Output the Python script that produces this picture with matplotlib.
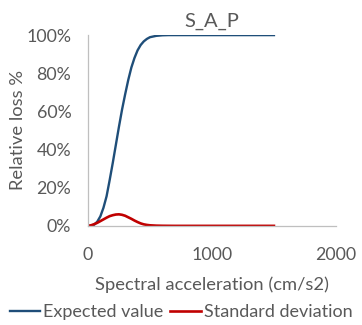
import matplotlib.pyplot as plt
from matplotlib.ticker import FuncFormatter

# spectral acceleration (cm/s2)
sa = [0, 25, 50, 75, 100, 125, 150, 175, 200, 225, 250, 275, 300, 325, 350, 375,
      400, 425, 450, 475, 500, 550, 600, 650, 700, 800, 1000, 1200, 1500]
# relative loss (%)
expected = [0, 0.1, 0.6, 2.2, 5.0, 9.5, 15.5, 24, 33, 42.5, 52, 61, 69, 76.5, 83, 88,
            92, 94.8, 96.7, 98, 98.9, 99.6, 99.9, 100, 100, 100, 100, 100, 100]
std_dev = [0, 0.3, 0.9, 1.6, 2.5, 3.4, 4.3, 5.1, 5.6, 5.95, 6.05, 5.8, 5.3, 4.5, 3.7, 2.8,
           2.0, 1.3, 0.8, 0.5, 0.3, 0.12, 0.05, 0.02, 0, 0, 0, 0, 0]

plt.rcParams['font.family'] = ['Lato', 'DejaVu Sans']
grey = '#595959'

fig = plt.figure(figsize=(3.62, 3.25), dpi=100)
ax = fig.add_axes([0.243, 0.305, 0.685, 0.587])

ax.plot(sa, expected, color='#1F4E79', lw=1.7, label='Expected value')
ax.plot(sa, std_dev, color='#C00000', lw=1.9, label='Standard deviation')

ax.set_xlim(0, 2000)
ax.set_ylim(0, 100)
ax.set_xticks([0, 1000, 2000])
ax.set_yticks(range(0, 101, 20))
ax.yaxis.set_major_formatter(FuncFormatter(lambda v, p: '%d%%' % v))
ax.tick_params(length=0, labelsize=12.8, labelcolor=grey)
ax.tick_params(axis='y', pad=12)
ax.tick_params(axis='x', pad=15)

for s in ['top', 'right']:
    ax.spines[s].set_visible(False)
for s in ['left', 'bottom']:
    ax.spines[s].set_color('#BFBFBF')
    ax.spines[s].set_linewidth(0.9)

ax.set_title('S_A_P', fontsize=14.5, color=grey, pad=6)
ax.set_xlabel('Spectral acceleration (cm/s2)', fontsize=13.2, color=grey, labelpad=10)
ax.set_ylabel('Relative loss %', fontsize=13.2, color=grey, labelpad=0)

fig.legend(loc='center', bbox_to_anchor=(0.5, 0.04), ncol=2, frameon=False,
           fontsize=13, labelcolor=grey, handlelength=1.7, handletextpad=0.15,
           columnspacing=0.4)

fig.savefig('out.png', dpi=100)
